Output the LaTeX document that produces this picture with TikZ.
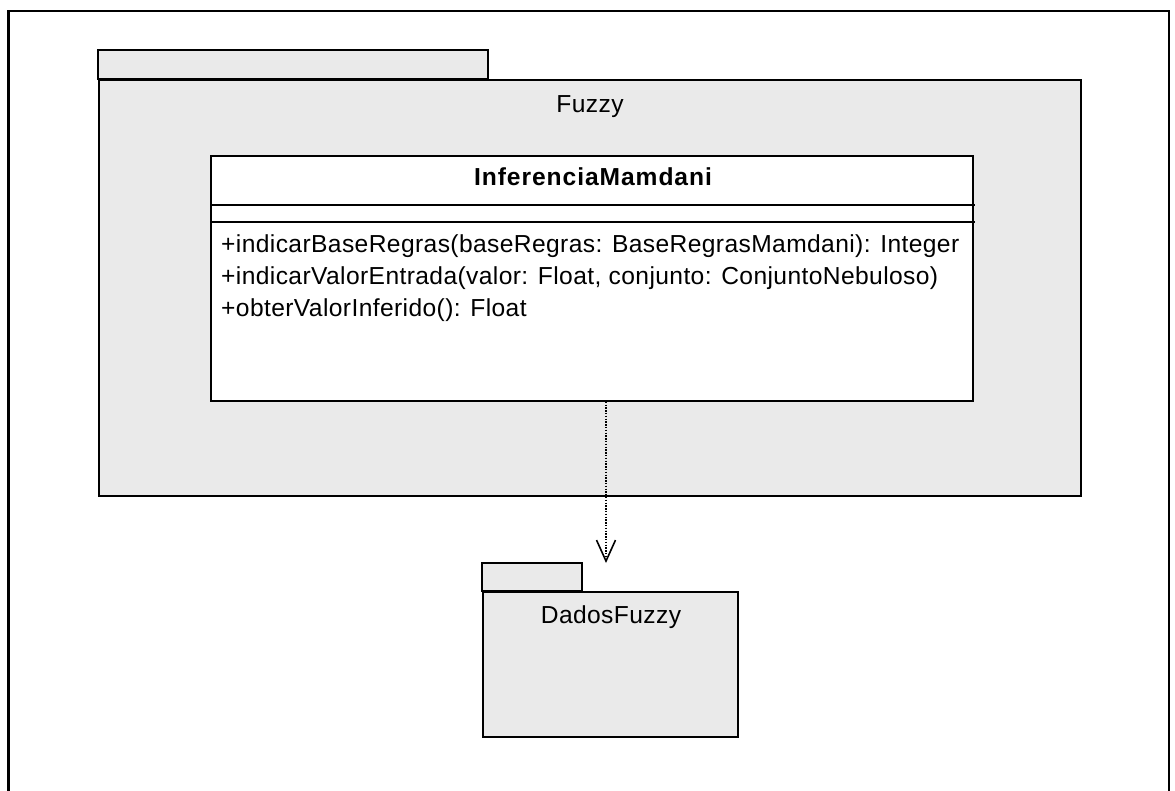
\documentclass[tikz,border=0pt]{standalone}
\usepackage{fontspec}
\setmainfont{Liberation Sans}[LetterSpace=1.6]
\newfontfamily\namefont{Liberation Sans}[LetterSpace=3.8]
\usetikzlibrary{arrows.meta}
\begin{document}
\begin{tikzpicture}[x=1pt,y=-1pt,
  pkgfill/.style={draw=black,line width=1.7pt,fill=pkggray},
  boxline/.style={draw=black,line width=1.7pt},
  label/.style={inner sep=0pt,anchor=base,font=\fontsize{24.6}{30}\selectfont},
  oplabel/.style={inner sep=0pt,anchor=base west,font=\fontsize{24.6}{30}\selectfont},
  depend/.style={line width=1.3pt,dash pattern=on 1.4pt off 1.4pt,
    -{Straight Barb[length=21pt,width=19pt,line width=1.6pt]}}]
\definecolor{pkggray}{HTML}{EAEAEA}
\useasboundingbox (0,0) rectangle (1175,791);
\clip (0,0) rectangle (1175,791);
% diagram frame (its lower edge runs off the page)
\draw[line width=2.4pt] (8.5,11) rectangle (1169,820);

% package Fuzzy
\path[pkgfill] (98,50) rectangle (488,79);
\node[pkgfill,rectangle,anchor=north west,minimum width=982pt,minimum height=416pt,inner sep=0pt] (fuzzy) at (98,79) {};
\node[label] (fuzzylbl) at (590,113) {Fuzzy};

% class InferenciaMamdani
\node[boxline,fill=white,rectangle,anchor=north west,minimum width=762pt,minimum height=245pt,inner sep=0pt] (cls) at (210,155) {};
\draw[boxline] (210,205) -- (975,205);
\draw[boxline] (210,222) -- (975,222);
\node[label,font=\fontsize{24.6}{30}\selectfont\namefont\bfseries] (clsname) at (593,185.5) {InferenciaMamdani};
\node[oplabel] (op1) at (221,253) {+indicarBaseRegras(baseRegras: BaseRegrasMamdani): Integer};
\node[oplabel] (op2) at (221,285) {+indicarValorEntrada(valor: Float, conjunto: ConjuntoNebuloso)};
\node[oplabel] (op3) at (221,317) {+obterValorInferido(): Float};

% package DadosFuzzy
\path[pkgfill] (482,563) rectangle (582,591);
\node[pkgfill,rectangle,anchor=north west,minimum width=255pt,minimum height=145pt,inner sep=0pt] (dados) at (482,591) {};
\node[label] (dadoslbl) at (611,623) {DadosFuzzy};

% dependency Fuzzy --> DadosFuzzy
\coordinate (depsrc) at (cls.south -| 606,0);
\coordinate (deptip) at (606,563);
\draw[depend] (depsrc) -- (deptip);
\end{tikzpicture}
\end{document}
